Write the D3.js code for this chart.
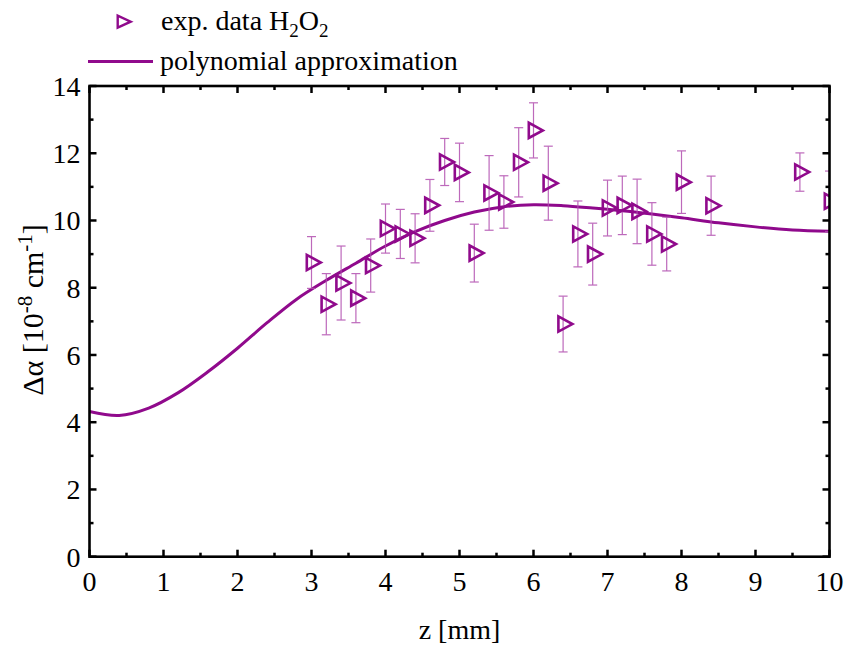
<!DOCTYPE html>
<html><head><meta charset="utf-8">
<script src="https://cdn.jsdelivr.net/npm/d3@7"></script>
<style>body{margin:0;background:#fff;} svg{display:block;} text{font-family:"Liberation Serif","Times New Roman",serif;fill:#000;}</style>
</head><body>
<script>
// data
const expZ   = [3.0,3.2,3.4,3.6,3.8,4.0,4.2,4.4,4.6,4.8,5.0,5.2,5.4,5.6,5.8,6.0,6.2,6.4,6.6,6.8,7.0,7.2,7.4,7.6,7.8,8.0,8.4,9.6,10.0];
const expVal = [8.75,7.51,8.14,7.69,8.66,9.76,9.60,9.47,10.45,11.74,11.43,9.03,10.82,10.55,11.73,12.68,11.11,6.92,9.60,9.00,10.37,10.45,10.27,9.60,9.30,11.14,10.44,11.44,10.57];
const expErr = [0.77,0.91,1.10,0.73,0.79,0.73,0.73,0.73,0.77,0.70,0.87,0.86,1.11,0.78,1.03,0.82,1.10,0.83,0.98,0.92,0.83,0.87,0.96,0.93,0.80,0.93,0.88,0.57,0.90];
const fitZ   = [0,0.4,0.8,1.2,1.6,2.0,2.4,2.8,3.2,3.6,4.0,4.4,4.8,5.2,5.6,6.0,6.4,6.8,7.2,7.6,8.0,8.5,9.0,9.5,10.0];
const fitVal = [4.32,4.20,4.42,4.88,5.50,6.20,6.96,7.66,8.22,8.73,9.24,9.67,10.0,10.25,10.41,10.47,10.44,10.37,10.29,10.19,10.08,9.93,9.81,9.72,9.68];
const xTicks = [0,1,2,3,4,5,6,7,8,9,10];
const yTicks = [0,2,4,6,8,10,12,14];

const W=847,H=649;
const m={l:89.5,r:17.5,t:86,b:92.3};
const svg=d3.select("body").append("svg").attr("width",W).attr("height",H);
const x=d3.scaleLinear().domain([0,10]).range([m.l,W-m.r]);
const y=d3.scaleLinear().domain([0,14]).range([H-m.b,m.t]);
const col="#900a8c", ecol="#b24fb0";

svg.append("defs").append("clipPath").attr("id","clip").append("rect")
  .attr("x",x(0)).attr("y",y(14)).attr("width",x(10)-x(0)).attr("height",y(0)-y(14));

const g=svg.append("g").attr("clip-path","url(#clip)");
// fit line
g.append("path").datum(fitZ.map((z,i)=>[z,fitVal[i]]))
  .attr("d",d3.line().x(d=>x(d[0])).y(d=>y(d[1])).curve(d3.curveCatmullRom))
  .attr("fill","none").attr("stroke",col).attr("stroke-width",3);
// error bars
const pts=expZ.map((z,i)=>({z,v:expVal[i],e:expErr[i]}));
const eb=g.append("g").attr("stroke",ecol).attr("stroke-width",1.2).attr("opacity",0.85);
pts.forEach(p=>{
  const cx=x(p.z);
  eb.append("line").attr("x1",cx).attr("x2",cx).attr("y1",y(p.v+p.e)).attr("y2",y(p.v-p.e));
  eb.append("line").attr("x1",cx-4.5).attr("x2",cx+4.5).attr("y1",y(p.v+p.e)).attr("y2",y(p.v+p.e));
  eb.append("line").attr("x1",cx-4.5).attr("x2",cx+4.5).attr("y1",y(p.v-p.e)).attr("y2",y(p.v-p.e));
});
const tri="M-4.7,-7.6L-4.7,7.6L9.3,0Z";
g.append("g").selectAll("path").data(pts).join("path")
  .attr("d",tri).attr("transform",p=>`translate(${x(p.z)},${y(p.v)})`)
  .attr("fill","none").attr("stroke",col).attr("stroke-width",2.6).attr("stroke-linejoin","miter");

// axes frame & ticks
const ax=svg.append("g").attr("stroke","#000").attr("stroke-width",2.5);
const minorX=d3.range(0.5,10,1), minorY=d3.range(1,14,2);
const tick=(x1,y1,x2,y2)=>ax.append("line").attr("x1",x1).attr("y1",y1).attr("x2",x2).attr("y2",y2);
xTicks.forEach(t=>{ tick(x(t),y(0),x(t),y(0)-7); tick(x(t),y(14),x(t),y(14)+7); });
minorX.forEach(t=>{ tick(x(t),y(0),x(t),y(0)-4); tick(x(t),y(14),x(t),y(14)+4); });
yTicks.forEach(t=>{ tick(x(0),y(t),x(0)+7,y(t)); tick(x(10),y(t),x(10)-7,y(t)); });
minorY.forEach(t=>{ tick(x(0),y(t),x(0)+4,y(t)); tick(x(10),y(t),x(10)-4,y(t)); });
ax.append("rect").attr("x",x(0)).attr("y",y(14)).attr("width",x(10)-x(0)).attr("height",y(0)-y(14))
  .attr("fill","none").attr("stroke-width",2.6);

// tick labels
svg.append("g").selectAll("text").data(xTicks).join("text")
  .attr("x",d=>x(d)).attr("y",y(0)+34).attr("text-anchor","middle")
  .attr("font-size",28).text(d=>d);
svg.append("g").selectAll("text").data(yTicks).join("text")
  .attr("x",x(0)-9).attr("y",d=>y(d)+10).attr("text-anchor","end")
  .attr("font-size",28).text(d=>d);

// axis titles
svg.append("text").attr("x",(x(0)+x(10))/2).attr("y",639).attr("text-anchor","middle")
  .attr("font-size",28).text("z [mm]");
const yl=svg.append("text").attr("transform","translate(43,310) rotate(-90)").attr("text-anchor","middle").attr("font-size",30);
yl.append("tspan").text("Δα [10");
yl.append("tspan").attr("dy",-11).attr("font-size",21).text("-8");
yl.append("tspan").attr("dy",11).text(" cm");
yl.append("tspan").attr("dy",-11).attr("font-size",21).text("-1");
yl.append("tspan").attr("dy",11).text("]");

// legend
svg.append("path").attr("d","M-4.3,-6L-4.3,6L8.7,0Z").attr("transform","translate(122,21.7)")
  .attr("fill","none").attr("stroke",col).attr("stroke-width",2.4);
const lt=svg.append("text").attr("x",161).attr("y",30).attr("font-size",28);
lt.append("tspan").text("exp. data H");
lt.append("tspan").attr("dy",7).attr("font-size",19).text("2");
lt.append("tspan").attr("dy",-7).text("O");
lt.append("tspan").attr("dy",7).attr("font-size",19).text("2");
svg.append("line").attr("x1",88).attr("x2",153).attr("y1",61.5).attr("y2",61.5).attr("stroke",col).attr("stroke-width",3);
svg.append("text").attr("x",160).attr("y",70).attr("font-size",28).text("polynomial approximation");
</script>
</body></html>
